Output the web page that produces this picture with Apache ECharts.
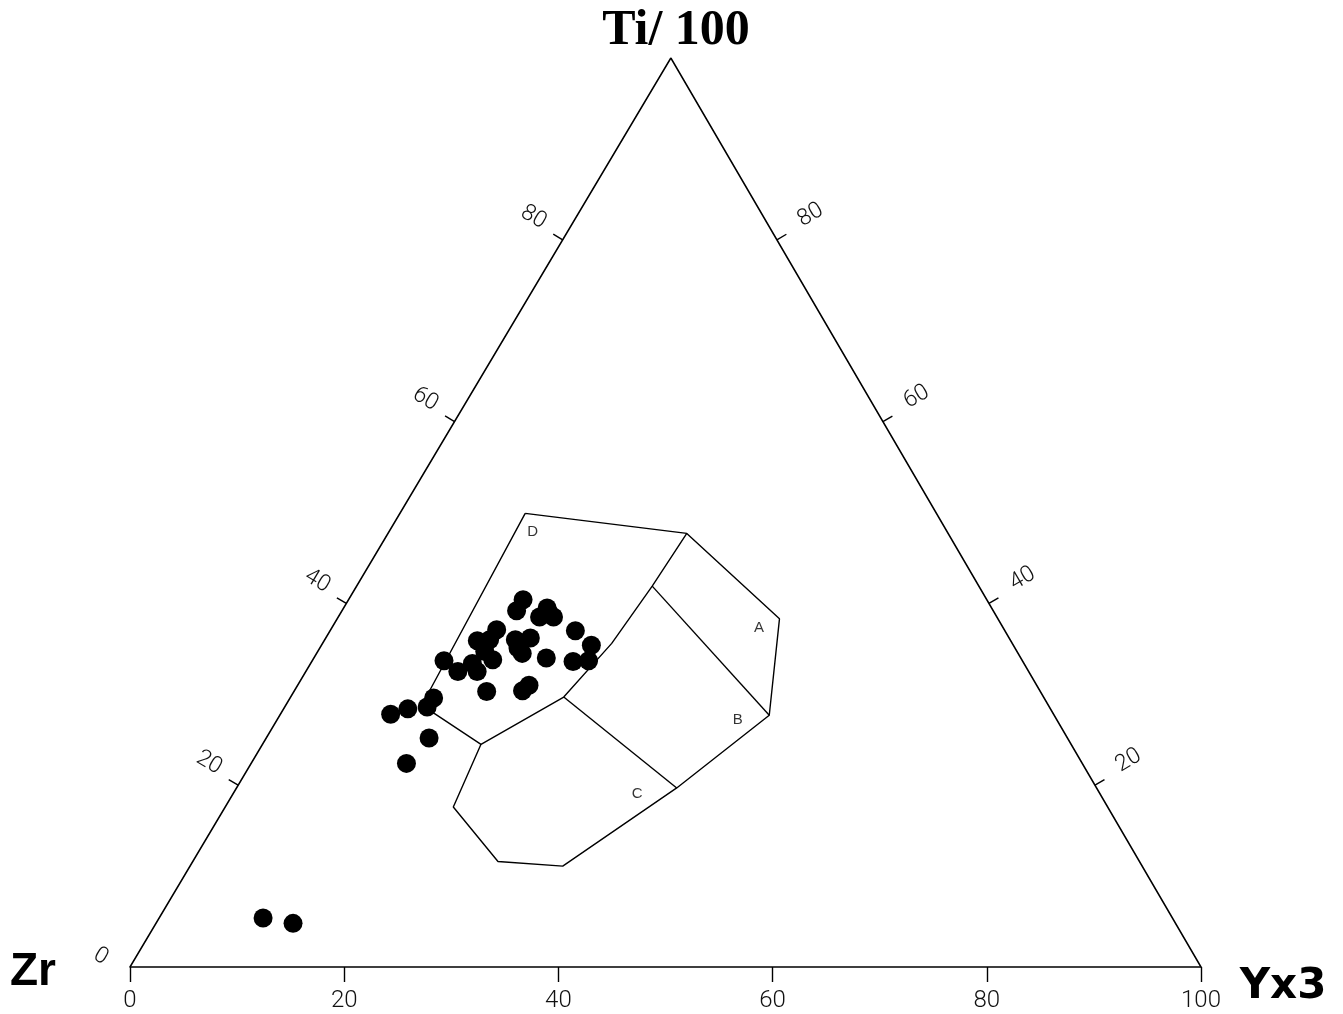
<!DOCTYPE html>
<html>
<head>
<meta charset="utf-8">
<script src="https://cdn.jsdelivr.net/npm/echarts@6/dist/echarts.min.js"></script>
<style>
html,body{margin:0;padding:0;background:#fff;}
#chart{width:1343px;height:1014px;}
</style>
</head>
<body>
<div id="chart"></div>
<script>
// ---- Data (ternary compositions: Ti/100, Zr, Yx3 in %) ----
const sampleTi = [40.4, 39.2, 39.5, 38.5, 38.5, 39.1, 37.0, 35.4, 33.7, 33.6, 34.0, 36.2, 36.0, 34.5, 35.1, 37.1, 35.9, 36.0, 34.7, 33.8, 33.4, 32.5, 32.5, 33.7, 30.3, 31.0, 30.4, 29.6, 28.6, 28.4, 27.8, 25.2, 22.4, 5.4, 4.8];
const sampleZr = [43.3, 44.5, 41.5, 42.7, 41.4, 41.6, 40.1, 39.4, 40.5, 42.0, 44.3, 44.7, 46.2, 46.3, 46.4, 47.4, 49.8, 48.6, 49.7, 49.4, 51.5, 51.5, 53.3, 54.0, 51.7, 47.4, 48.3, 57.0, 58.1, 60.0, 61.9, 59.6, 63.1, 84.9, 82.4];
const sampleY  = [16.3, 16.3, 19.0, 18.8, 20.1, 19.3, 22.9, 25.2, 25.8, 24.4, 21.7, 19.1, 17.8, 19.2, 18.5, 15.5, 14.3, 15.4, 15.6, 16.8, 15.1, 16.0, 14.2, 12.3, 18.0, 21.6, 21.3, 13.4, 13.3, 11.6, 10.3, 15.2, 14.5, 9.7, 12.8];

// Field boundaries [Ti, Zr, Y]
const fieldOutline = [[49.9, 38.4, 11.7], [47.7, 24.4, 27.9], [38.3, 20.4, 41.3], [27.7, 26.6, 45.7], [19.7, 39.2, 41.1], [11.1, 54.1, 34.8], [11.6, 59.9, 28.5], [17.6, 61.1, 21.3], [24.5, 55.1, 20.4], [28.8, 58.5, 12.7], [49.9, 38.4, 11.7]];
const boundaryD = [[47.7, 24.4, 27.9], [41.9, 30.5, 27.6], [35.6, 37.4, 27.0], [29.7, 44.8, 25.5], [24.5, 55.1, 20.4]];
const boundaryAB = [[41.9, 30.5, 27.6], [27.7, 26.6, 45.7]];
const boundaryBC = [[29.7, 44.8, 25.5], [19.7, 39.2, 41.1]];
const fieldNames = ['D', 'A', 'B', 'C'];
const fieldLabelPos = [[47.9, 38.7, 13.4], [37.3, 22.8, 39.9], [27.2, 29.8, 43.0], [19.1, 43.2, 37.7]];

const bottomTicks = [0, 20, 40, 60, 80, 100];
const leftTicks = [0, 20, 40, 60, 80];
const rightTicks = [20, 40, 60, 80];
const corners = [[0, 100, 0], [100, 0, 0], [0, 0, 100]]; // Zr, Ti, Y apexes

// apex of the drawn triangle sits at 50.5 % along the base
const apexShift = 0.505;
// ---- ternary -> cartesian (x: Y + Ti*shift, y: Ti) ----
function toXY(t) {
  const s = t[0] + t[1] + t[2];
  return [(t[2] + t[0] * apexShift) / s * 100, t[0] / s * 100];
}

const samples = sampleTi.map((t, i) => toXY([t, sampleZr[i], sampleY[i]]));
const sideTickData = leftTicks.map(v => [v, 0]).concat(rightTicks.map(v => [v, 1]));

const labelFont = 'Roboto, "DejaVu Sans", sans-serif';
const lineStyle = {color: '#000', width: 1.4};

const chart = echarts.init(document.getElementById('chart'), null, {renderer: 'canvas'});
chart.setOption({
  animation: false,
  backgroundColor: '#fff',
  grid: {left: 130, right: 142, top: 58, bottom: 47},
  xAxis: {
    type: 'value', min: 0, max: 100, interval: 20,
    axisLine: {show: true, lineStyle: {color: '#000', width: 1.5}},
    axisTick: {show: true, length: 15, lineStyle: {color: '#000', width: 1.4}},
    axisLabel: {show: true, fontSize: 24, fontWeight: 300, fontFamily: labelFont, color: '#111', margin: 22,
      formatter: v => bottomTicks.indexOf(v) >= 0 ? String(v) : ''},
    splitLine: {show: false}
  },
  yAxis: {type: 'value', min: 0, max: 100, show: false},
  graphic: [
    {type: 'text', x: 676, y: 31, style: {text: 'Ti/ 100', font: 'bold 50px "Liberation Serif", serif', fill: '#000', align: 'center', verticalAlign: 'middle'}},
    {type: 'text', x: 33, y: 972, style: {text: 'Zr', font: 'bold 46px "Liberation Sans", sans-serif', fill: '#000', align: 'center', verticalAlign: 'middle'}},
    {type: 'text', x: 1283, y: 987, style: {text: 'Yx3', font: 'bold 42px "DejaVu Sans", sans-serif', fill: '#000', align: 'center', verticalAlign: 'middle'}}
  ],
  series: [
    {
      type: 'line', data: [toXY(corners[0]), toXY(corners[1]), toXY(corners[2])],
      symbol: 'none', lineStyle: {color: '#000', width: 1.5}, silent: true, z: 2
    },
    {
      type: 'custom', coordinateSystem: 'cartesian2d', clip: false, silent: true, z: 3,
      data: sideTickData,
      renderItem: function (params, api) {
        const v = api.value(0), side = api.value(1);
        const pt = api.coord(toXY(side === 0 ? [v, 100 - v, 0] : [v, 0, 100 - v]));
        const A = api.coord(toXY(corners[0])), T = api.coord(toXY(corners[1])), B = api.coord(toXY(corners[2]));
        let nx, ny;
        if (side === 0) { const ex = T[0] - A[0], ey = T[1] - A[1]; nx = ey; ny = -ex; }
        else { const ex = T[0] - B[0], ey = T[1] - B[1]; nx = -ey; ny = ex; }
        const len = Math.hypot(nx, ny); nx /= len; ny /= len;
        const dx = side === 0 ? -nx : nx, dy = side === 0 ? -ny : ny;
        const rot = -Math.atan2(dy, dx);
        const dist = side === 0 ? 34 : 39;
        const children = [];
        if (v !== 0) {
          children.push({type: 'line', shape: {x1: pt[0], y1: pt[1], x2: pt[0] + nx * 11, y2: pt[1] + ny * 11},
            style: {stroke: '#000', lineWidth: 1.4}});
        }
        const lx = pt[0] + nx * dist, ly = pt[1] + ny * dist + (v === 0 ? 7 : -5);
        children.push({type: 'text', x: lx, y: ly, rotation: rot,
          style: {text: String(v), fontSize: 23, fontWeight: 300, fontFamily: labelFont, fill: '#111', align: 'center', verticalAlign: 'middle'}});
        return {type: 'group', children: children};
      }
    },
    {type: 'line', data: fieldOutline.map(toXY), symbol: 'none', lineStyle: lineStyle, silent: true, z: 2},
    {type: 'line', data: boundaryD.map(toXY), symbol: 'none', lineStyle: lineStyle, silent: true, z: 2},
    {type: 'line', data: boundaryAB.map(toXY), symbol: 'none', lineStyle: lineStyle, silent: true, z: 2},
    {type: 'line', data: boundaryBC.map(toXY), symbol: 'none', lineStyle: lineStyle, silent: true, z: 2},
    {
      type: 'scatter', silent: true, z: 3,
      data: fieldLabelPos.map((p, i) => ({name: fieldNames[i], value: toXY(p)})),
      symbolSize: 1, itemStyle: {color: 'rgba(0,0,0,0)'},
      label: {show: true, position: 'inside', formatter: p => p.name, fontSize: 15, fontFamily: '"Liberation Sans", Arial, sans-serif', color: '#000'}
    },
    {
      type: 'scatter', data: samples, symbol: 'circle', symbolSize: 19,
      itemStyle: {color: '#000', opacity: 1}, silent: true, z: 5
    }
  ]
});
</script>
</body>
</html>
